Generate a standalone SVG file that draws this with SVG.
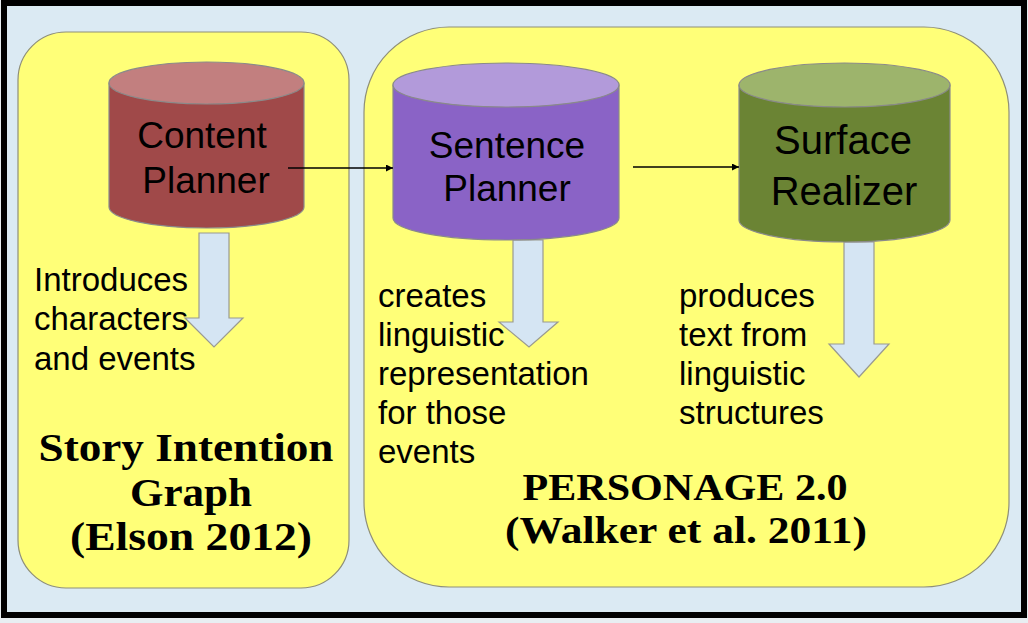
<svg xmlns="http://www.w3.org/2000/svg" width="1028" height="623" viewBox="0 0 1028 623">
<defs>
<style>
.panel{fill:#ffff78;stroke:#8f8f78;stroke-width:1.2}
.cyl-stroke{stroke:#8a8a8a;stroke-width:1.2}
.lbl{font-family:"Liberation Sans",Arial,sans-serif;font-size:37px;fill:#000;text-anchor:middle}
.desc{font-family:"Liberation Sans",Arial,sans-serif;font-size:33px;fill:#000}
.title{font-family:"Liberation Serif","Times New Roman",serif;font-weight:bold;fill:#000;text-anchor:middle}
.blk{fill:#d5e5f3;stroke:#9a9a90;stroke-width:1.2}
.conn{stroke:#000;stroke-width:1.5;fill:none}
</style>
<marker id="ah" viewBox="0 0 10 10" refX="10" refY="5" markerWidth="7" markerHeight="7" markerUnits="userSpaceOnUse" orient="auto">
<path d="M0,0 L10,5 L0,10 z" fill="#000"/>
</marker>
</defs>
<rect x="0" y="0" width="1028" height="623" fill="#e8eef2"/>
<rect x="4" y="3" width="1020" height="612" fill="#dbeaf3" stroke="#000" stroke-width="6"/>

<g id="panel-left">
<rect class="panel" x="18" y="32" width="331" height="556" rx="48" ry="48"/>
</g>
<g id="panel-right">
<rect class="panel" x="364" y="27" width="645" height="560" rx="85" ry="85"/>
</g>

<g id="block-arrows">
<path class="blk" d="M199,233 L229,233 L229,318 L243,318 L214,347 L185,318 L199,318 Z"/>
<path class="blk" d="M513,240 L543,240 L543,322 L558,322 L529,347 L499,322 L513,322 Z"/>
<path class="blk" d="M844,242 L874,242 L874,344 L889,344 L859,377 L829,344 L844,344 Z"/>
</g>

<g id="content-planner">
<path class="cyl-stroke" fill="#a04949" d="M109,83 L109,207 A97.5,21 0 0 0 304,207 L304,83 Z"/>
<ellipse class="cyl-stroke" cx="206.5" cy="83" rx="97.5" ry="21" fill="#c27f7f"/>
<text class="lbl" x="202" y="148">Content</text>
<text class="lbl" x="206" y="193">Planner</text>
</g>

<g id="sentence-planner">
<path class="cyl-stroke" fill="#8a63c6" d="M393,85 L393,218 A113,22 0 0 0 619,218 L619,85 Z"/>
<ellipse class="cyl-stroke" cx="506" cy="85" rx="113" ry="22" fill="#b29ada"/>
<text class="lbl" x="507" y="158">Sentence</text>
<text class="lbl" x="507" y="201">Planner</text>
</g>

<g id="surface-realizer">
<path class="cyl-stroke" fill="#6b8434" d="M739,85 L739,220 A105.5,22 0 0 0 950,220 L950,85 Z"/>
<ellipse class="cyl-stroke" cx="844.5" cy="85" rx="105.5" ry="22" fill="#9db46c"/>
<text class="lbl" x="843" y="154" style="font-size:40px">Surface</text>
<text class="lbl" x="844" y="205" style="font-size:40px">Realizer</text>
</g>

<g id="connectors">
<line class="conn" x1="288" y1="168" x2="393" y2="168" marker-end="url(#ah)"/>
<line class="conn" x1="633" y1="167" x2="739" y2="167" marker-end="url(#ah)"/>
</g>

<g id="desc-content">
<text class="desc" x="34" y="291">Introduces</text>
<text class="desc" x="34" y="330">characters</text>
<text class="desc" x="34" y="370">and events</text>
</g>
<g id="desc-sentence">
<text class="desc" x="378" y="307">creates</text>
<text class="desc" x="378" y="346">linguistic</text>
<text class="desc" x="378" y="385">representation</text>
<text class="desc" x="378" y="424">for those</text>
<text class="desc" x="378" y="463">events</text>
</g>
<g id="desc-surface">
<text class="desc" x="679" y="307">produces</text>
<text class="desc" x="679" y="346">text from</text>
<text class="desc" x="679" y="385">linguistic</text>
<text class="desc" x="679" y="424">structures</text>
</g>

<g id="title-left">
<text class="title" x="186" y="461" font-size="40" textLength="295" lengthAdjust="spacingAndGlyphs">Story Intention</text>
<text class="title" x="191" y="506" font-size="40" textLength="122" lengthAdjust="spacingAndGlyphs">Graph</text>
<text class="title" x="191" y="550" font-size="40" textLength="242" lengthAdjust="spacingAndGlyphs">(Elson 2012)</text>
</g>
<g id="title-right">
<text class="title" x="685" y="500" font-size="37" textLength="325" lengthAdjust="spacingAndGlyphs">PERSONAGE 2.0</text>
<text class="title" x="686" y="543" font-size="37" textLength="362" lengthAdjust="spacingAndGlyphs">(Walker et al. 2011)</text>
</g>
</svg>
